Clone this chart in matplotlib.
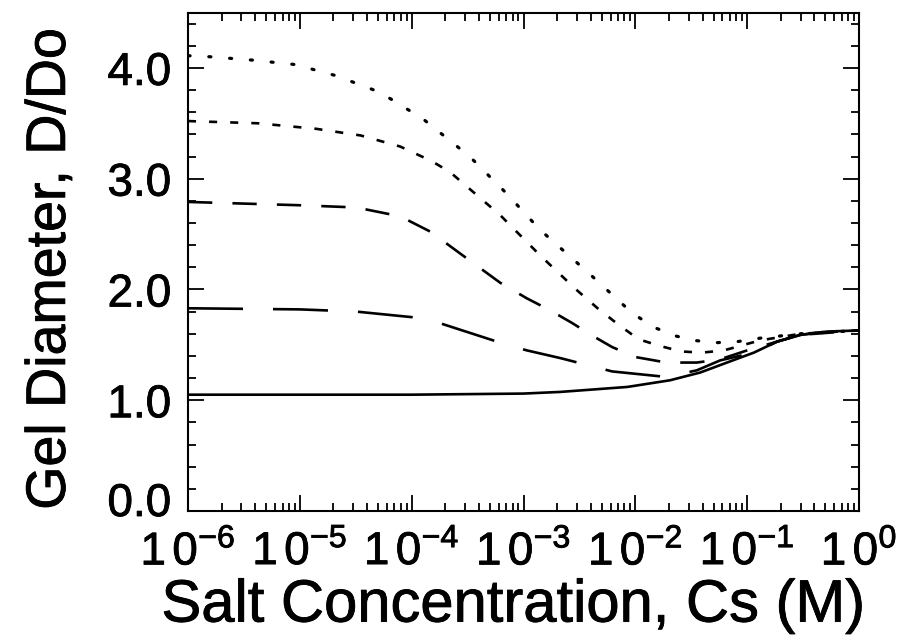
import matplotlib
matplotlib.use("Agg")
import matplotlib.pyplot as plt
import matplotlib.patheffects as pe
from matplotlib.transforms import ScaledTranslation
from matplotlib.ticker import FixedLocator, NullFormatter, LogLocator

plt.rcParams['font.family'] = ['Liberation Sans', 'DejaVu Sans']
plt.rcParams['mathtext.fontset'] = 'custom'
plt.rcParams['mathtext.rm'] = 'Liberation Sans'
plt.rcParams['mathtext.it'] = 'Liberation Sans:italic'
plt.rcParams['mathtext.bf'] = 'Liberation Sans:bold'
plt.rcParams['mathtext.default'] = 'regular'
plt.rcParams['lines.scale_dashes'] = False

# ---- data ----
cs_dot = [1e-6, 1.6e-6, 3.8e-6, 9.1e-6, 2.1e-5, 5.2e-5, 1.26e-4, 3.3e-4, 7e-4,
          1.4e-3, 4.0e-3, 9.3e-3, 1.45e-2, 2.3e-2, 3.3e-2, 5.4e-2, 8.3e-2, 0.13, 0.30, 1.0]
d_dot = [4.11, 4.10, 4.07, 4.03, 3.93, 3.78, 3.54, 3.20, 2.87,
         2.54, 2.13, 1.79, 1.66, 1.58, 1.54, 1.52, 1.53, 1.56, 1.60, 1.63]

cs_short = [1e-6, 4.2e-6, 1.4e-5, 3.5e-5, 7.9e-5, 1.5e-4, 2.2e-4, 6.2e-4, 1.4e-3,
            2.95e-3, 4.6e-3, 6.9e-3, 1.07e-2, 1.66e-2, 2.57e-2, 3.98e-2, 6.2e-2,
            0.13, 0.30, 1.0]
d_short = [3.52, 3.50, 3.45, 3.39, 3.29, 3.16, 3.06, 2.67, 2.31,
           2.00, 1.83, 1.69, 1.55, 1.49, 1.44, 1.43, 1.45,
           1.54, 1.60, 1.63]

cs_med = [1e-6, 1e-5, 3.2e-5, 7.9e-5, 1.48e-4, 2.75e-4, 6.2e-4, 1.07e-3, 1.74e-3,
          2.69e-3, 4.17e-3, 6.2e-3, 1e-2, 1.9e-2, 3.55e-2, 5.75e-2, 0.1, 0.30, 1.0]
d_med = [2.79, 2.76, 2.74, 2.66, 2.52, 2.32, 2.06, 1.92, 1.81,
         1.70, 1.58, 1.48, 1.39, 1.34, 1.34, 1.37, 1.45, 1.59, 1.63]

cs_long = [1e-6, 1e-5, 3.2e-5, 1e-4, 1.86e-4, 5.75e-4, 1.07e-3, 2.14e-3, 6.2e-3,
           1.9e-2, 3.55e-2, 5.75e-2, 0.115, 0.186, 0.30, 0.52, 1.0]
d_long = [1.83, 1.82, 1.80, 1.75, 1.69, 1.53, 1.45, 1.38, 1.26,
          1.21, 1.27, 1.36, 1.43, 1.53, 1.59, 1.62, 1.63]

cs_solid = [1e-6, 1e-4, 1e-3, 2.14e-3, 8.5e-3, 2.04e-2, 3.8e-2, 6.6e-2, 0.115,
            0.186, 0.30, 0.52, 1.0]
d_solid = [1.05, 1.05, 1.06, 1.075, 1.12, 1.18, 1.25, 1.34, 1.43,
           1.53, 1.59, 1.62, 1.63]

x_ticks = [1e-6, 1e-5, 1e-4, 1e-3, 1e-2, 1e-1, 1e0]
x_ticklabels = [r'$1\,0^{-6}$', r'$1\,0^{-5}$', r'$1\,0^{-4}$', r'$1\,0^{-3}$',
                r'$1\,0^{-2}$', r'$1\,0^{-1}$', r'$1\,0^{0}$']
y_ticks = [0.0, 1.0, 2.0, 3.0, 4.0]
y_ticklabels = ['0.0', '1.0', '2.0', '3.0', '4.0']
y_minor = [0.2, 0.4, 0.6, 0.8, 1.2, 1.4, 1.6, 1.8, 2.2, 2.4, 2.6, 2.8,
           3.2, 3.4, 3.6, 3.8, 4.2, 4.4]

# ---- figure ----
W, H = 907, 637
fig = plt.figure(figsize=(W / 100, H / 100), dpi=100)
ax = fig.add_axes([188 / W, 1 - 511 / H, (859 - 188) / W, (511 - 12.5) / H])

lw = 1.9
ax.plot(cs_solid, d_solid, color='black', lw=lw, solid_capstyle='butt')
ax.plot(cs_long, d_long, color='black', lw=lw, linestyle=(0, (39.6, 21.6)),
        dash_capstyle='butt')
ax.plot(cs_med, d_med, color='black', lw=lw, linestyle=(0, (17.5, 14.5)),
        dash_capstyle='butt')
ax.plot(cs_short, d_short, color='black', lw=lw, linestyle=(0, (5.8, 9.4)),
        dash_capstyle='butt')
ax.plot(cs_dot, d_dot, color='black', lw=lw + 0.4, linestyle=(0, (1.5, 13.5)),
        dash_capstyle='round')

ax.set_xscale('log')
ax.set_xlim(1e-6, 1.0)
ax.set_ylim(0, 4.5)

ax.set_xticks(x_ticks)
ax.set_xticklabels(x_ticklabels)
ax.xaxis.set_minor_locator(LogLocator(base=10, subs=[2, 3, 4, 5, 6, 7, 8, 9], numticks=20))
ax.xaxis.set_minor_formatter(NullFormatter())
ax.set_yticks(y_ticks)
ax.set_yticklabels(y_ticklabels)
ax.yaxis.set_minor_locator(FixedLocator(y_minor))

ax.tick_params(which='both', direction='in', top=True, right=True, width=1.3,
               color='black')
ax.tick_params(which='major', length=11.5)
ax.tick_params(which='minor', length=5.8)
ax.tick_params(axis='x', which='major', labelsize=33, pad=14)
ax.tick_params(axis='y', which='major', labelsize=33, pad=12)
for s in ax.spines.values():
    s.set_linewidth(1.5)

thick = [pe.withStroke(linewidth=0.6, foreground='black')]
for lab in ax.get_xticklabels() + ax.get_yticklabels():
    lab.set_path_effects(thick)

# lift the 0.0 label a little, as in the original
lab0 = ax.get_yticklabels()[0]
lab0.set_transform(lab0.get_transform() + ScaledTranslation(0, 12 / 100, fig.dpi_scale_trans))

xl = ax.set_xlabel('Salt Concentration, Cs (M)', fontsize=43, labelpad=3)
yl = ax.set_ylabel('Gel Diameter, D/Do', fontsize=40, labelpad=22)
ax.xaxis.label.set_x(0.485)
ax.yaxis.label.set_y(0.485)
xl.set_path_effects(thick)
yl.set_path_effects(thick)

fig.savefig('out.png', dpi=100)
